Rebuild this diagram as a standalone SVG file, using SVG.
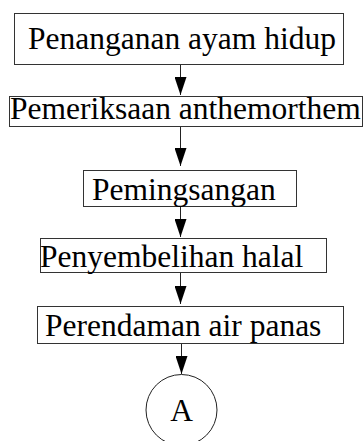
<svg xmlns="http://www.w3.org/2000/svg" width="363" height="441" viewBox="0 0 363 441">
<style>
.box{fill:#fff;stroke:#333;stroke-width:1}
.t{font-family:"Liberation Serif","Times New Roman",serif;font-size:31.5px;fill:#000}
.c{stroke:#222;stroke-width:1;fill:none}
</style>
<defs>
<marker id="ah" markerWidth="18" markerHeight="12" refX="18" refY="6" orient="auto" markerUnits="userSpaceOnUse" viewBox="0 0 18 12">
<path d="M0,0 L18,6 L0,12 Z" fill="#000"/>
</marker>
</defs>
<rect width="363" height="441" fill="#fff"/>
<g id="connectors">
<line class="c" x1="180.5" y1="64" x2="180.5" y2="95" marker-end="url(#ah)"/>
<line class="c" x1="180.5" y1="127" x2="180.5" y2="166" marker-end="url(#ah)"/>
<line class="c" x1="180.5" y1="207" x2="180.5" y2="237" marker-end="url(#ah)"/>
<line class="c" x1="180.5" y1="273" x2="180.5" y2="304" marker-end="url(#ah)"/>
<line class="c" x1="181.5" y1="343" x2="181.5" y2="374" marker-end="url(#ah)"/>
</g>
<g id="n1">
<rect class="box" x="14.5" y="13.5" width="329" height="51"/>
<text class="t" x="28" y="48.5">Penanganan ayam hidup</text>
</g>
<g id="n2">
<rect class="box" x="9.5" y="96.5" width="353" height="30"/>
<text class="t" x="10" y="119">Pemeriksaan anthemorthem</text>
</g>
<g id="n3">
<rect class="box" x="83.5" y="170.5" width="213" height="36"/>
<text class="t" x="92" y="200">Pemingsangan</text>
</g>
<g id="n4">
<rect class="box" x="40.5" y="238.5" width="286" height="34"/>
<text class="t" x="40" y="267">Penyembelihan halal</text>
</g>
<g id="n5">
<rect class="box" x="37.5" y="306.5" width="306" height="37"/>
<text class="t" x="45" y="336">Perendaman air panas</text>
</g>
<g id="A">
<circle cx="181.5" cy="410" r="35.5" fill="#fff" stroke="#222" stroke-width="1"/>
<text class="t" x="181.5" y="421" text-anchor="middle">A</text>
</g>
</svg>
